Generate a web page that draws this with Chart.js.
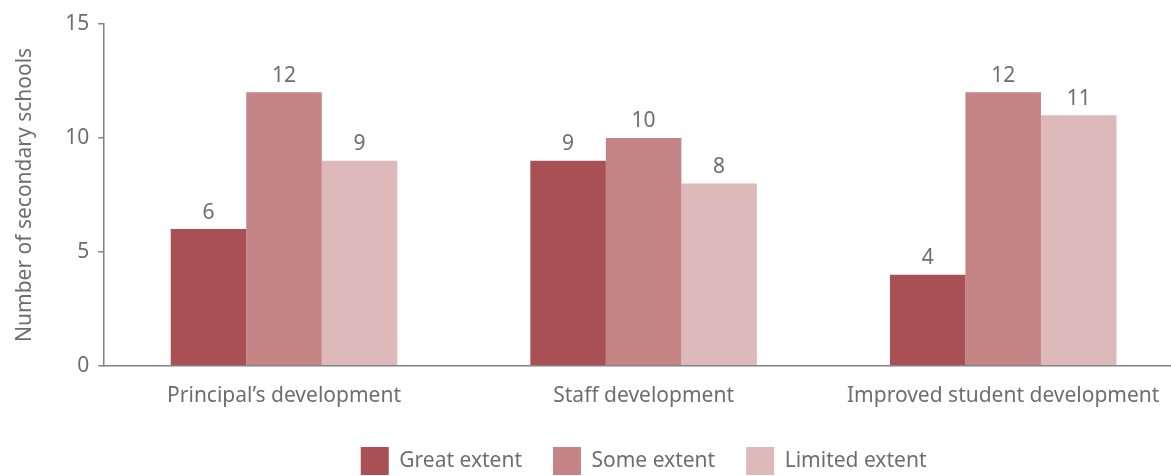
<!DOCTYPE html>
<html>
<head>
<meta charset="utf-8">
<script src="https://cdn.jsdelivr.net/npm/chart.js@4"></script>
<style>
  html, body { margin: 0; padding: 0; background: #fff; overflow: hidden; }
  #wrap { width: 1183px; height: 485px; position: relative; }
</style>
</head>
<body>
<div id="wrap"><canvas id="chart"></canvas></div>
<script>
const categories = ["Principal\u2019s development", "Staff development", "Improved student development"];
const greatExtent = [6, 9, 4];
const someExtent = [12, 10, 12];
const limitedExtent = [9, 8, 11];
const yTicks = [0, 5, 10, 15];

const textGrey = "#6d6e71";
const axisGrey = "#808285";
const fontFamily = "Noto Sans";

// value labels above each bar
const barLabels = {
  id: "barLabels",
  afterDatasetsDraw(chart) {
    const ctx = chart.ctx;
    ctx.save();
    ctx.font = "21px '" + fontFamily + "'";
    ctx.fillStyle = textGrey;
    ctx.textAlign = "center";
    ctx.textBaseline = "bottom";
    chart.data.datasets.forEach(function (ds, i) {
      chart.getDatasetMeta(i).data.forEach(function (bar, j) {
        ctx.fillText(ds.data[j], bar.x, bar.y - 6);
      });
    });
    ctx.restore();
  },
};

new Chart(document.getElementById("chart"), {
  type: "bar",
  data: {
    labels: categories,
    datasets: [
      { label: "Great extent", data: greatExtent, backgroundColor: "#a85053" },
      { label: "Some extent", data: someExtent, backgroundColor: "#c48485" },
      { label: "Limited extent", data: limitedExtent, backgroundColor: "#ddb9b9" },
    ],
  },
  options: {
    responsive: true,
    maintainAspectRatio: false,
    animation: false,
    datasets: { bar: { categoryPercentage: 0.63, barPercentage: 1.0 } },
    layout: { padding: { top: 24, left: 12, right: 0, bottom: 0 } },
    scales: {
      x: {
        grid: { display: false, drawTicks: false },
        border: { display: true, color: axisGrey, width: 1.5 },
        ticks: { color: textGrey, font: { family: fontFamily, size: 21 }, padding: 18 },
        afterFit: function (axis) {
          axis.height -= 11;
        },
      },
      y: {
        min: 0,
        max: 15,
        afterBuildTicks: function (axis) {
          axis.ticks = yTicks.map(function (v) { return { value: v }; });
        },
        grid: { display: true, drawOnChartArea: false, drawTicks: true, tickLength: 6, color: axisGrey, lineWidth: 1.5 },
        border: { display: true, color: axisGrey, width: 1.5 },
        ticks: { color: textGrey, font: { family: fontFamily, size: 21 }, padding: 9 },
        title: {
          display: true,
          text: "Number of secondary schools",
          color: textGrey,
          font: { family: fontFamily, size: 21 },
          padding: { top: 0, bottom: 19 },
        },
      },
    },
    plugins: {
      legend: {
        position: "bottom",
        fullSize: false,
        labels: {
          boxWidth: 28,
          boxHeight: 28,
          color: textGrey,
          font: { family: fontFamily, size: 21 },
          padding: 31,
        },
      },
      tooltip: { enabled: false },
    },
  },
  plugins: [barLabels],
});
</script>
</body>
</html>
